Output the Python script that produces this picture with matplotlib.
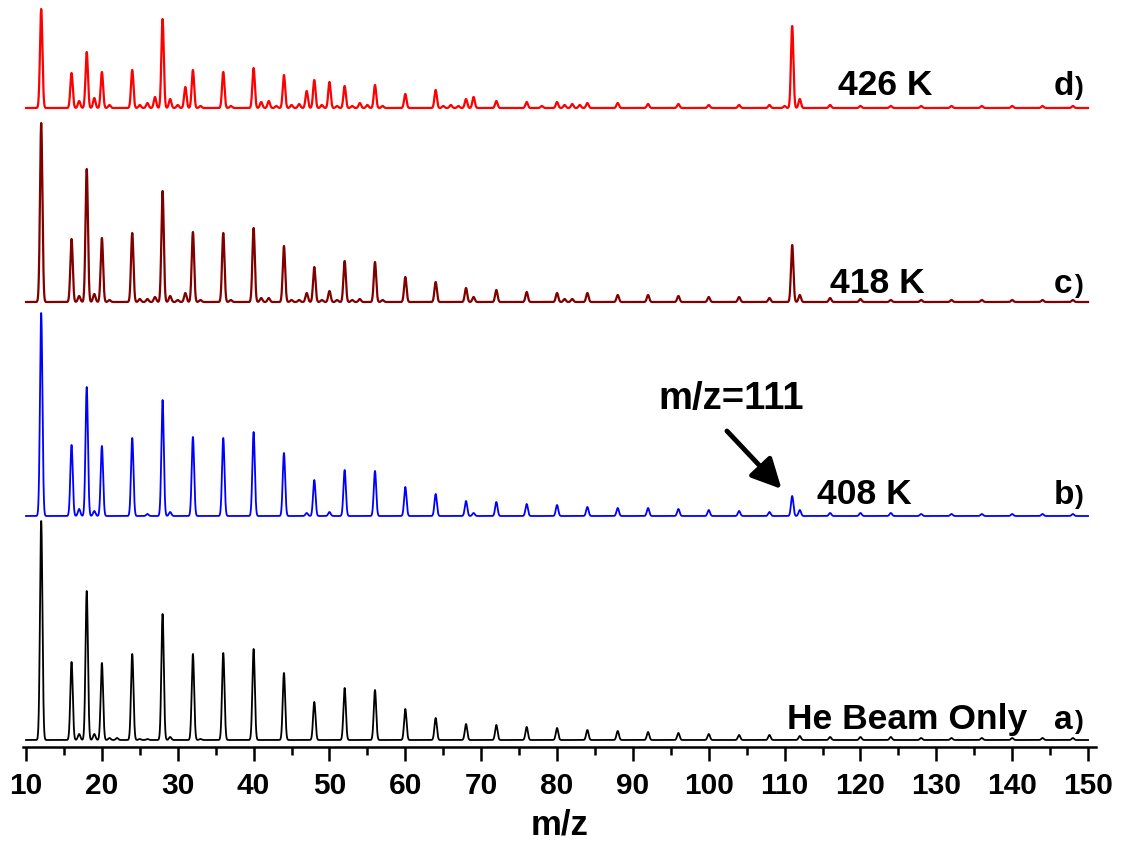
import matplotlib.pyplot as plt
import numpy as np

plt.rcParams["font.family"] = ["Liberation Sans", "DejaVu Sans"]
plt.rcParams["font.weight"] = "bold"

# peak positions (m/z) and heights (arbitrary units)
MZ_A = [12, 16, 17, 18, 19, 20, 21, 22, 24, 25, 26, 28, 29, 32, 33, 36, 40, 44,
        48, 52, 56, 60, 64, 68, 72, 76, 80, 84, 88, 92, 96, 100, 104, 108, 112,
        116, 120, 124, 128, 132, 136, 140, 144, 148]
H_A = [219, 78, 6, 149, 6, 77, 2, 2, 86, 1, 1, 126, 3, 86, 1, 87, 91, 67,
       38, 52, 50, 31, 22, 16, 15, 13, 12, 10, 9, 8, 7, 6, 5, 5, 4,
       3, 3, 3, 2, 2, 2, 2, 2, 2]

MZ_B = [12, 16, 17, 18, 19, 20, 24, 26, 28, 29, 32, 36, 40, 44, 47, 48, 50, 52,
        56, 60, 64, 68, 69, 72, 76, 80, 84, 88, 92, 96, 100, 104, 108, 111,
        112, 116, 120, 124, 128, 132, 136, 140, 144, 148]
H_B = [203, 71, 7, 129, 5, 70, 78, 2, 116, 4, 79, 78, 84, 63, 3, 36, 4, 46,
       45, 29, 22, 15, 3, 14, 12, 11, 9, 8, 8, 7, 6, 5, 4, 20,
       6, 3, 3, 3, 2, 2, 2, 2, 2, 2]

MZ_C = [12, 16, 17, 18, 19, 20, 21, 24, 25, 26, 27, 28, 29, 30, 31, 32, 33, 36,
        37, 40, 41, 42, 44, 45, 46, 47, 48, 49, 50, 51, 52, 53, 54, 56, 57, 60,
        64, 68, 69, 72, 76, 80, 81, 82, 84, 88, 92, 96, 100, 104, 108, 111,
        112, 116, 120, 124, 128, 132, 136, 140, 144, 148]
H_C = [179, 63, 6, 133, 8, 64, 2, 69, 3, 3, 5, 111, 6, 2, 9, 70, 2, 69,
       2, 74, 4, 4, 56, 2, 2, 9, 35, 2, 11, 2, 41, 2, 3, 40, 2, 25,
       20, 14, 5, 12, 10, 9, 3, 3, 9, 7, 7, 6, 5, 5, 4, 57,
       7, 4, 3, 2, 2, 2, 2, 2, 2, 2]

MZ_D = [12, 16, 17, 18, 19, 20, 21, 24, 25, 26, 27, 28, 29, 30, 31, 32, 33, 36,
        37, 40, 41, 42, 43, 44, 45, 46, 47, 48, 49, 50, 51, 52, 53, 54, 55, 56,
        57, 60, 64, 65, 66, 67, 68, 69, 72, 76, 78, 80, 81, 82, 83, 84, 88, 92,
        96, 100, 104, 108, 110, 111, 112, 116, 120, 124, 128, 132, 136, 140,
        144, 148]
H_D = [99, 35, 7, 56, 10, 36, 3, 38, 3, 5, 11, 89, 9, 3, 21, 38, 2, 36,
       2, 40, 6, 7, 2, 33, 3, 4, 17, 28, 3, 26, 2, 22, 2, 5, 3, 23,
       2, 14, 18, 2, 3, 2, 9, 11, 7, 6, 2, 6, 3, 4, 3, 5, 5, 4,
       4, 3, 3, 3, 2, 82, 9, 3, 2, 2, 2, 2, 2, 2,
       2, 2]

SERIES = [
    ("a", MZ_A, H_A, "black", 1.3, 7),
    ("b", MZ_B, H_B, "#0000FF", 1.3, 231),
    ("c", MZ_C, H_C, "#800000", 1.6, 445),
    ("d", MZ_D, H_D, "#FF0000", 1.6, 639),
]

SIGMA = 0.16
x = np.linspace(10, 150, 14001)


def spectrum(mz, h):
    y = np.zeros_like(x)
    for m, a in zip(mz, h):
        y += a * np.exp(-0.5 * ((x - m) / SIGMA) ** 2)
    return y


fig = plt.figure(figsize=(11.22, 8.46), dpi=100)
ax = fig.add_axes([23 / 1122, (846 - 747) / 846, (1096 - 23) / 1122, 747 / 846])

for name, mz, h, col, lw, off in SERIES:
    ax.plot(x, spectrum(mz, h) + off, color=col, lw=lw)

ax.set_xlim(9.6, 151.05)
ax.set_ylim(0, 747)

for s in ["top", "right", "left"]:
    ax.spines[s].set_visible(False)
ax.spines["bottom"].set_linewidth(1.8)
ax.set_yticks([])
ax.set_xticks(np.arange(10, 151, 10))
ax.set_xticks(np.arange(15, 150, 10), minor=True)
ax.tick_params(axis="x", which="major", direction="out", length=10, width=1.8,
               labelsize=21.5, pad=8)
ax.tick_params(axis="x", which="minor", direction="out", length=5.5, width=1.8)
for t in ax.get_xticklabels():
    t.set_fontweight("bold")
ax.set_xlabel("m/z", fontsize=25, fontweight="bold", labelpad=6)

TFS = 25.5
ax.text(117.0, 652, "426 K", fontsize=TFS, fontweight="bold", va="baseline")
ax.text(116.0, 454, "418 K", fontsize=TFS, fontweight="bold", va="baseline")
ax.text(114.3, 243, "408 K", fontsize=TFS, fontweight="bold", va="baseline")
ax.text(110.3, 18, "He Beam Only", fontsize=TFS, fontweight="bold", va="baseline")

for letter, y in [("d", 652), ("c", 454), ("b", 243), ("a", 18)]:
    ax.text(145.5, y, letter, fontsize=24, fontweight="bold", va="baseline")
    ax.text(148.3, y, ")", fontsize=19, fontweight="bold", va="baseline")

ax.text(93.3, 338, "m/z=111", fontsize=27.5, fontweight="bold", va="baseline")
ax.annotate("", xy=(109.6, 258), xytext=(102.4, 316),
            arrowprops=dict(arrowstyle="-|>,head_length=0.9,head_width=0.45",
                            color="black", lw=3.5, mutation_scale=20,
                            shrinkA=0, shrinkB=0))

fig.savefig("out.png", dpi=100)
